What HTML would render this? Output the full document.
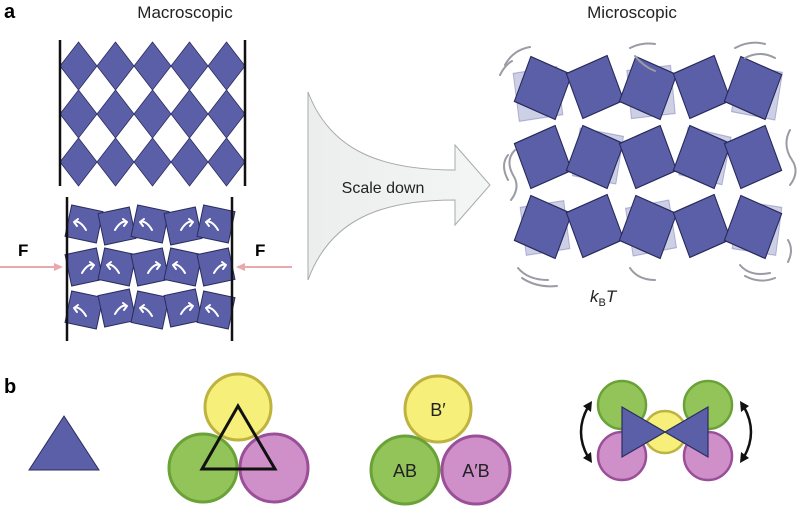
<!DOCTYPE html>
<html><head><meta charset="utf-8"><style>
html,body{margin:0;padding:0;background:#fff;}
svg{display:block;font-family:"Liberation Sans",sans-serif;}
</style></head><body>
<svg width="800" height="529" viewBox="0 0 800 529" xmlns="http://www.w3.org/2000/svg">
<defs>
<linearGradient id="g" x1="0" x2="1"><stop offset="0" stop-color="#eceeee"/><stop offset="1" stop-color="#f4f5f5"/></linearGradient>
<g id="sq"><rect x="-16" y="-16" width="32" height="32" fill="#5b5fa8" stroke="#2a2d5e" stroke-width="1"/></g>
<g id="ms"><rect x="-22" y="-22" width="44" height="44" fill="#5b5fa8" stroke="#262a5a" stroke-width="1.1"/></g>
<g id="msf"><rect x="-22" y="-22" width="44" height="44" fill="#5b5fa8" fill-opacity="0.3" stroke="#5b5fa8" stroke-opacity="0.4"/></g>
</defs>
<text x="4" y="18" font-size="20" font-weight="bold">a</text>
<text x="185" y="18" font-size="17" text-anchor="middle" fill="#222">Macroscopic</text>
<text x="632" y="18" font-size="17" text-anchor="middle" fill="#222">Microscopic</text>

<!-- top lattice -->
<g fill="#5b5fa8" stroke="#2a2d5e" stroke-width="0.8">
<g id="row">
<polygon points="78.5,42 97,66 78.5,90 60,66"/><polygon points="115.5,42 134,66 115.5,90 97,66"/><polygon points="152.5,42 171,66 152.5,90 134,66"/><polygon points="189.5,42 208,66 189.5,90 171,66"/><polygon points="226.5,42 245,66 226.5,90 208,66"/>
</g>
<use href="#row" y="48"/><use href="#row" y="96"/>
</g>
<line x1="60" y1="40" x2="60" y2="186" stroke="#111" stroke-width="2.5"/>
<line x1="245" y1="40" x2="245" y2="186" stroke="#111" stroke-width="2.5"/>

<!-- bottom lattice -->
<g>
<use href="#sq" transform="translate(84,224) rotate(12)"/>
<use href="#sq" transform="translate(117,226) rotate(-12)"/>
<use href="#sq" transform="translate(150,224) rotate(12)"/>
<use href="#sq" transform="translate(183,226) rotate(-12)"/>
<use href="#sq" transform="translate(216,224) rotate(12)"/>
<use href="#sq" transform="translate(84,267) rotate(-12)"/>
<use href="#sq" transform="translate(117,267) rotate(12)"/>
<use href="#sq" transform="translate(150,267) rotate(-12)"/>
<use href="#sq" transform="translate(183,267) rotate(12)"/>
<use href="#sq" transform="translate(216,267) rotate(-12)"/>
<use href="#sq" transform="translate(84,310) rotate(12)"/>
<use href="#sq" transform="translate(117,308) rotate(-12)"/>
<use href="#sq" transform="translate(150,310) rotate(12)"/>
<use href="#sq" transform="translate(183,308) rotate(-12)"/>
<use href="#sq" transform="translate(216,310) rotate(12)"/>
</g>
<g fill="none" stroke="#fff" stroke-width="2" stroke-linecap="round">
<path d="M86,230 q-6,-10 -12,-8 M74,222 l4,-3 M74,222 l3,4"/>
<path d="M115,230 q6,-10 12,-8 M127,222 l-4,-3 M127,222 l-3,4"/>
<path d="M152,230 q-6,-10 -12,-8 M140,222 l4,-3 M140,222 l3,4"/>
<path d="M181,230 q6,-10 12,-8 M193,222 l-4,-3 M193,222 l-3,4"/>
<path d="M218,230 q-6,-10 -12,-8 M206,222 l4,-3 M206,222 l3,4"/>
<path d="M82,273 q6,-10 12,-8 M94,265 l-4,-3 M94,265 l-3,4"/>
<path d="M119,273 q-6,-10 -12,-8 M107,265 l4,-3 M107,265 l3,4"/>
<path d="M148,273 q6,-10 12,-8 M160,265 l-4,-3 M160,265 l-3,4"/>
<path d="M185,273 q-6,-10 -12,-8 M173,265 l4,-3 M173,265 l3,4"/>
<path d="M214,273 q6,-10 12,-8 M226,265 l-4,-3 M226,265 l-3,4"/>
<path d="M86,316 q-6,-10 -12,-8 M74,308 l4,-3 M74,308 l3,4"/>
<path d="M115,314 q6,-10 12,-8 M127,306 l-4,-3 M127,306 l-3,4"/>
<path d="M152,316 q-6,-10 -12,-8 M140,308 l4,-3 M140,308 l3,4"/>
<path d="M181,314 q6,-10 12,-8 M193,306 l-4,-3 M193,306 l-3,4"/>
<path d="M218,316 q-6,-10 -12,-8 M206,308 l4,-3 M206,308 l3,4"/>
</g>
<line x1="67" y1="197" x2="67" y2="341" stroke="#111" stroke-width="2.5"/>
<line x1="232" y1="197" x2="232" y2="341" stroke="#111" stroke-width="2.5"/>
<text x="18" y="256" font-size="17" font-weight="bold">F</text>
<text x="255" y="256" font-size="17" font-weight="bold">F</text>
<g stroke="#e8a8ad" stroke-width="2" fill="#e8a8ad">
<line x1="0" y1="267" x2="58" y2="267"/><polygon points="63,267 54,263 54,271" stroke="none"/>
<line x1="292" y1="267" x2="242" y2="267"/><polygon points="236,267 245,263 245,271" stroke="none"/>
</g>

<!-- big arrow -->
<path d="M308,92 C330,150 380,170 455,170 L455,145 L490,185 L455,225 L455,200 C380,200 330,220 308,280 Z" fill="url(#g)" stroke="#a9abab" stroke-width="1"/>
<text x="383" y="193" font-size="16" text-anchor="middle" fill="#222">Scale down</text>

<!-- microscopic lattice -->
<g>
<use href="#msf" transform="translate(538,94) scale(1,1.1) rotate(-8)"/>
<use href="#msf" transform="translate(598,156) scale(1,1.1) rotate(10)"/>
<use href="#msf" transform="translate(651,92) scale(1,1.1) rotate(-6)"/>
<use href="#msf" transform="translate(705,156) scale(1,1.1) rotate(12)"/>
<use href="#msf" transform="translate(545,228) scale(1,1.1) rotate(-8)"/>
<use href="#msf" transform="translate(651,228) scale(1,1.1) rotate(-10)"/>
<use href="#msf" transform="translate(757,228) scale(1,1.1) rotate(8)"/>
<use href="#msf" transform="translate(757,92) scale(1,1.1) rotate(10)"/>
<use href="#ms" transform="translate(543,88) scale(1,1.1) rotate(22)"/>
<use href="#ms" transform="translate(595,87) scale(1,1.1) rotate(-22)"/>
<use href="#ms" transform="translate(648,88) scale(1,1.1) rotate(22)"/>
<use href="#ms" transform="translate(702,87) scale(1,1.1) rotate(-22)"/>
<use href="#ms" transform="translate(753,88) scale(1,1.1) rotate(22)"/>
<use href="#ms" transform="translate(543,157) scale(1,1.1) rotate(-22)"/>
<use href="#ms" transform="translate(595,157) scale(1,1.1) rotate(22)"/>
<use href="#ms" transform="translate(648,157) scale(1,1.1) rotate(-22)"/>
<use href="#ms" transform="translate(702,157) scale(1,1.1) rotate(22)"/>
<use href="#ms" transform="translate(753,157) scale(1,1.1) rotate(-22)"/>
<use href="#ms" transform="translate(543,227) scale(1,1.1) rotate(22)"/>
<use href="#ms" transform="translate(595,226) scale(1,1.1) rotate(-22)"/>
<use href="#ms" transform="translate(648,227) scale(1,1.1) rotate(22)"/>
<use href="#ms" transform="translate(702,226) scale(1,1.1) rotate(-22)"/>
<use href="#ms" transform="translate(753,227) scale(1,1.1) rotate(22)"/>
</g>
<g fill="none" stroke="#9a9ba3" stroke-width="2" stroke-linecap="round">
<path d="M505,65 q8,-15 25,-18"/><path d="M500,75 q5,-10 12,-14"/>
<path d="M630,48 q12,-6 25,-4"/><path d="M635,56 q8,10 20,15"/>
<path d="M735,48 q15,-8 30,-4"/><path d="M745,58 q15,-8 30,0"/>
<path d="M515,150 q-10,10 -2,25 q8,12 -2,25"/><path d="M508,155 q-8,10 0,25"/>
<path d="M790,130 q-8,15 2,30 q8,12 -2,25"/>
<path d="M518,268 q10,12 30,12"/><path d="M522,278 q15,10 35,8"/>
<path d="M630,268 q8,12 25,12"/><path d="M740,265 q10,12 30,8"/><path d="M745,276 q15,8 30,2"/>
<path d="M788,240 q6,10 0,22"/>
</g>
<text x="590" y="302" font-size="17" font-style="italic" fill="#222">k<tspan font-size="11" font-style="normal" dy="4">B</tspan><tspan dy="-4">T</tspan></text>

<!-- panel b -->
<text x="4" y="393" font-size="20" font-weight="bold">b</text>
<polygon points="64,416 99,470 29,470" fill="#5b5fa8" stroke="#2a2d5e" stroke-width="1"/>

<g stroke-width="3">
<circle cx="238" cy="407" r="33" fill="#f6ef7a" stroke="#bfb340"/>
<circle cx="203" cy="468" r="34" fill="#92c45a" stroke="#6aa238"/>
<circle cx="274" cy="468" r="34" fill="#cf8fc9" stroke="#9a4f98"/>
</g>
<polygon points="238,406 275,469 202,469" fill="none" stroke="#111" stroke-width="3"/>

<g stroke-width="3">
<circle cx="438" cy="409" r="33" fill="#f6ef7a" stroke="#bfb340"/>
<circle cx="405" cy="470" r="34" fill="#92c45a" stroke="#6aa238"/>
<circle cx="476" cy="470" r="34" fill="#cf8fc9" stroke="#9a4f98"/>
</g>
<text x="438" y="416" font-size="18" text-anchor="middle" fill="#222">B′</text>
<text x="405" y="477" font-size="18" text-anchor="middle" fill="#222">AB</text>
<text x="476" y="477" font-size="18" text-anchor="middle" fill="#222">A′B</text>

<g stroke-width="2.5">
<circle cx="622" cy="405" r="24" fill="#92c45a" stroke="#6aa238"/>
<circle cx="708" cy="405" r="24" fill="#92c45a" stroke="#6aa238"/>
<circle cx="622" cy="456" r="24" fill="#cf8fc9" stroke="#9a4f98"/>
<circle cx="708" cy="456" r="24" fill="#cf8fc9" stroke="#9a4f98"/>
<circle cx="665" cy="432" r="21" fill="#f6ef7a" stroke="#bfb340"/>
</g>
<polygon points="622,407 665,432 622,457" fill="#5b5fa8" stroke="#2a2d5e" stroke-width="1.2"/>
<polygon points="708,407 665,432 708,457" fill="#5b5fa8" stroke="#2a2d5e" stroke-width="1.2"/>
<g fill="none" stroke="#111" stroke-width="2.5">
<path d="M588,407 q-14,25 0,50"/><path d="M744,407 q14,25 0,50"/>
</g>
<g fill="#111">
<polygon points="592,401 583,406 591,412"/><polygon points="592,463 583,458 591,452"/>
<polygon points="740,401 749,406 741,412"/><polygon points="740,463 749,458 741,452"/>
</g>
</svg>
</body></html>
